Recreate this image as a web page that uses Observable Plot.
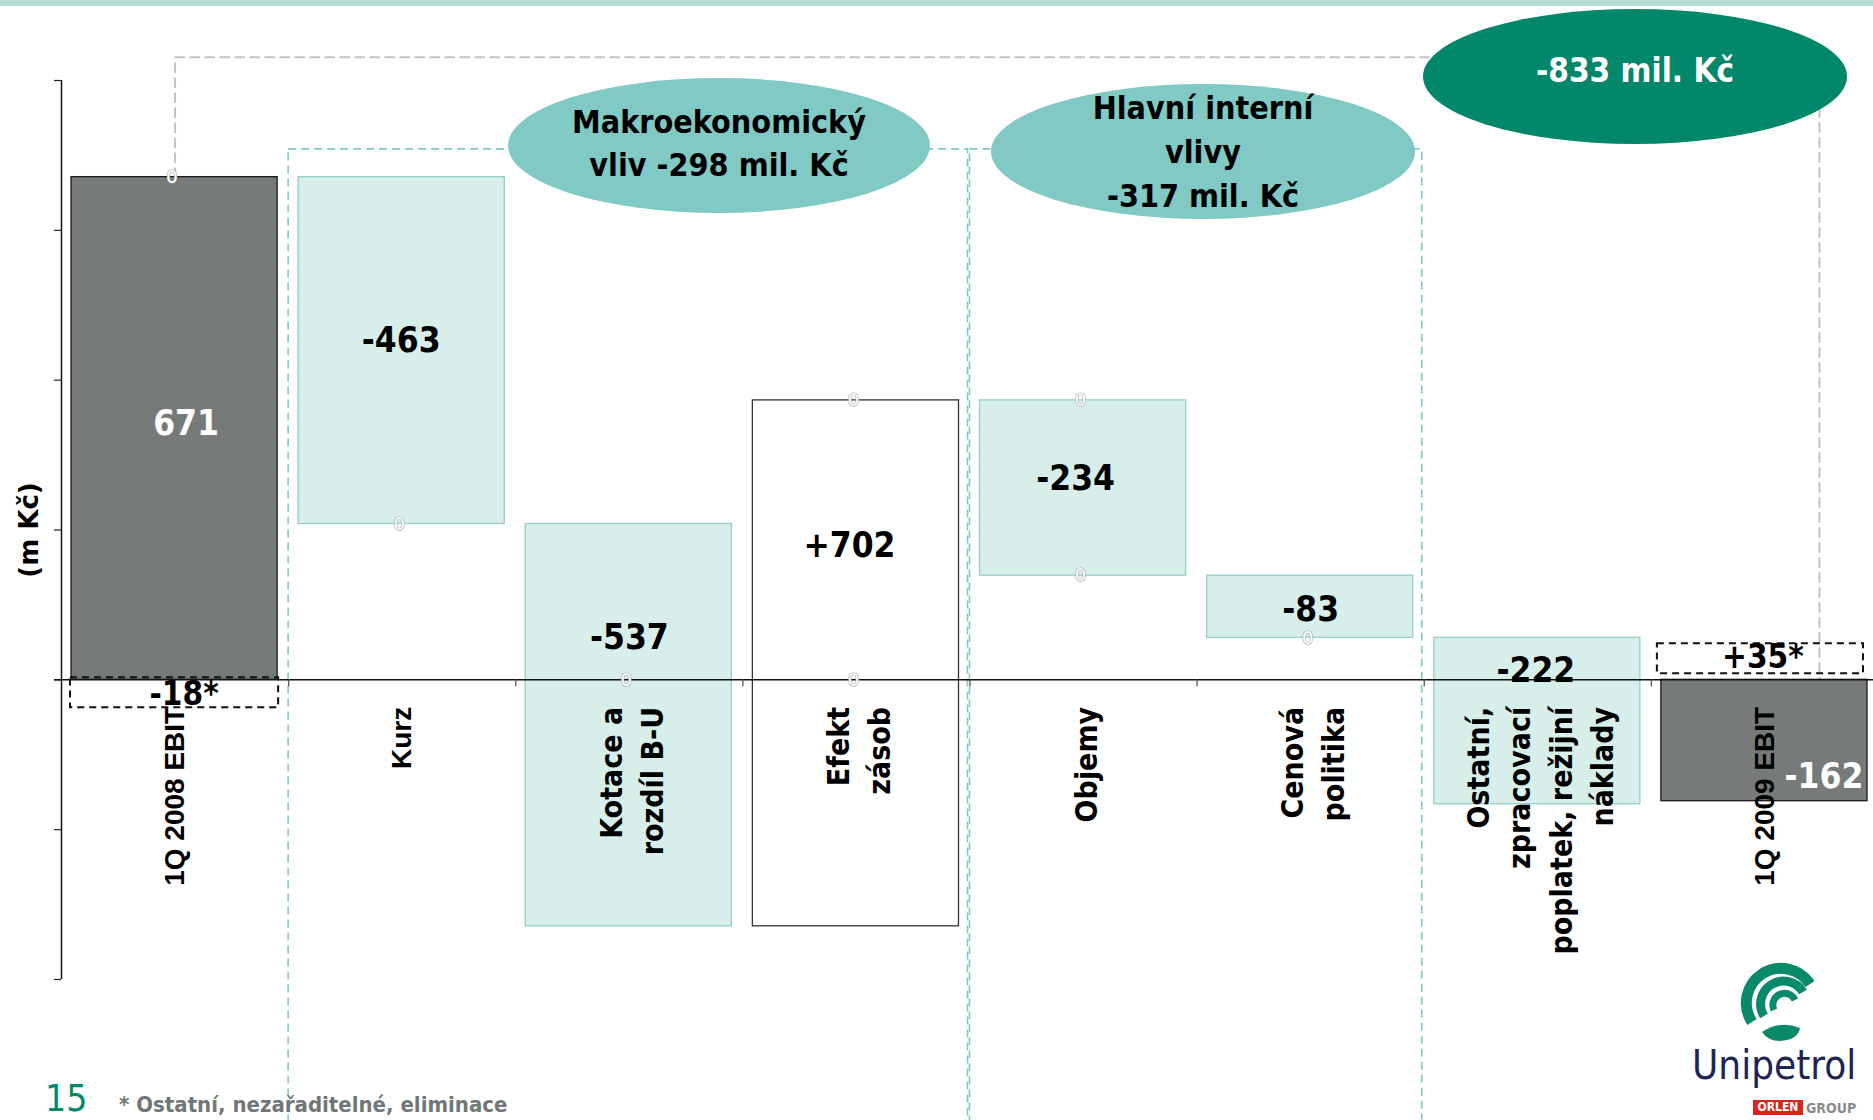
<!DOCTYPE html>
<html>
<head>
<meta charset="utf-8">
<script src="https://cdn.jsdelivr.net/npm/d3@7"></script>
<script src="https://cdn.jsdelivr.net/npm/@observablehq/plot@0.6"></script>
<style>
  body { margin: 0; background: #fff; }
  #wrap { position: relative; width: 1873px; height: 1120px; overflow: hidden; background: #fff;
          font-family: "DejaVu Sans Condensed", "DejaVu Sans", sans-serif; }
  #wrap svg.plot { position: absolute; left: 0; top: 0; }
  .ell { position: absolute; border-radius: 50%; display: flex; flex-direction: column; align-items: center;
         justify-content: center; text-align: center; font-weight: bold;
         font-family: "DejaVu Sans Condensed", "DejaVu Sans", sans-serif; }
  .abs { position: absolute; line-height: 1; white-space: nowrap; }
</style>
</head>
<body>
<div id="wrap"></div>
<script>
// ---------- data ----------
const categories = [
  "1Q 2008 EBIT",
  "Kurz",
  "Kotace a\nrozdíl B-U",
  "Efekt\nzásob",
  "Objemy",
  "Cenová\npolitika",
  "Ostatní,\nzpracovací\npoplatek, režijní\nnáklady",
  "1Q 2009 EBIT"
];
const values = [671, -463, -537, 702, -234, -83, -222, -162];
const kinds = ["total", "change", "change", "change", "change", "change", "change", "total"];
const valueLabels = ["671", "-463", "-537", "+702", "-234", "-83", "-222", "-162"];

const adjustmentCategories = ["1Q 2008 EBIT", "1Q 2009 EBIT"];
const adjustmentValues = [-18, 35];
const adjustmentLabels = ["-18*", "+35*"];

const groupNames = ["Makroekonomický\nvliv -298 mil. Kč", "Hlavní interní\nvlivy\n-317 mil. Kč"];
const groupFirst = ["Kurz", "Objemy"];
const groupLast = ["Efekt\nzásob", "Cenová\npolitika"];
const groupTotals = [-298, -317];
const totalChangeLabel = "-833 mil. Kč";

// small hollow "0" data labels visible in the source chart
const zeroMarkCategories = ["1Q 2008 EBIT", "Kurz", "Kotace a\nrozdíl B-U", "Efekt\nzásob", "Efekt\nzásob",
  "Objemy", "Objemy", "Cenová\npolitika"];
const zeroMarkValues = [671, 208, 0, 373, 0, 373, 139, 56];

const yTicks = [-400, -200, 0, 200, 400, 600, 800];
const yTitle = "(m Kč)";
const pageNumber = "15";
const footnote = "* Ostatní, nezařaditelné, eliminace";

// ---------- derived table ----------
const n = categories.length;
const idx = c => categories.indexOf(c);
let cum = 0;
const bars = values.map((v, i) => {
  let start, end;
  if (kinds[i] === "total") { start = 0; end = v; cum = v; }
  else { start = cum; end = cum + v; cum = end; }
  return { i, x1: i, x2: i + 1, xm: i + 0.5, start, end, mid: (start + end) / 2,
           kind: kinds[i], inc: v > 0, label: valueLabels[i], cat: categories[i] };
});
const adjustments = adjustmentCategories.map((c, k) => ({ i: idx(c), xm: idx(c) + 0.5, x1: idx(c), x2: idx(c) + 1,
  v: adjustmentValues[k], label: adjustmentLabels[k] }));
const groups = groupNames.map((g, k) => ({ name: g, x1: idx(groupFirst[k]), x2: idx(groupLast[k]) + 1, total: groupTotals[k] }));
const zeroMarks = zeroMarkCategories.map((c, k) => ({ xm: idx(c) + 0.5, v: zeroMarkValues[k] }));

// ---------- styles ----------
const COND = "DejaVu Sans Condensed, DejaVu Sans, sans-serif";
const ARIAL = "Liberation Sans, Arial, sans-serif";
const fillOf = d => d.kind === "total" ? "#767b7a" : (d.inc ? "#ffffff" : "#d8eeeb");
const strokeOf = d => d.kind === "total" ? "#1a1a1a" : (d.inc ? "#333333" : "#92cfcb");
const labelDx = [11, -1, 0, -7, -8, 0, -2, 59];
const labelDy = [-5, -10, -87, -118, -9, 3, -50, 36];
const arialCats = new Set(["1Q 2008 EBIT", "Kurz", "1Q 2009 EBIT"]);

// bracket from first total to the last bar (annotation of total change)
const first = bars[0], last = bars[n - 1];
const bracketTop = 831;
const bracket = [
  { x: first.xm, y: first.end },
  { x: first.xm, y: bracketTop },
  { x: last.x1 + 0.74, y: bracketTop },
  { x: last.x1 + 0.74, y: 0 }
];

const valueTextMarks = bars.map(b => Plot.text([b], {
  x: "xm", y: "mid", text: "label", dx: labelDx[b.i], dy: labelDy[b.i],
  fill: b.kind === "total" ? "#ffffff" : "#000000",
  fontSize: 35, fontWeight: "bold", fontFamily: COND
}));

const chart = Plot.plot({
  width: 1873,
  height: 1120,
  marginLeft: 61,
  marginRight: 0,
  marginTop: 80,
  marginBottom: 141,
  x: { domain: [0, n], range: [61, 1878], axis: null },
  y: { domain: [yTicks[0], yTicks[yTicks.length - 1]], range: [979, 80], axis: null },
  color: { type: "identity" },
  style: { overflow: "visible", background: "transparent" },
  marks: [
    // group frames
    Plot.rect(groups, { x1: "x1", x2: "x2", y1: -640, y2: 708, fill: "none", stroke: "#7fcac6",
      strokeWidth: 1.6, strokeDasharray: "8,5", insetRight: 2 }),
    // grey bracket
    Plot.line(bracket, { x: "x", y: "y", stroke: "#c3c3c3", strokeWidth: 2, strokeDasharray: "9,6" }),
    // bars
    Plot.rect(bars, { x1: "x1", x2: "x2", y1: "start", y2: "end", fill: fillOf, stroke: strokeOf,
      strokeWidth: 1.3, insetLeft: 10, insetRight: 11 }),
    // y axis
    Plot.ruleX([0], { y1: yTicks[0], y2: yTicks[yTicks.length - 1], stroke: "#111", strokeWidth: 1.5 }),
    Plot.axisY({ ticks: yTicks, tickSize: 7, tickFormat: () => "", stroke: "#222", strokeWidth: 1.2, label: null }),
    Plot.text([yTitle], { frameAnchor: "left", textAnchor: "middle", dx: -32, rotate: -90, fontSize: 26,
      fontWeight: "bold", fontFamily: "DejaVu Sans, sans-serif", fill: "#000" }),
    // zero line and category boundary ticks
    Plot.ruleY([0], { stroke: "#111", strokeWidth: 1.5, insetLeft: -7 }),
    Plot.ruleX(d3.range(1, n), { y1: 0, y2: 0, insetBottom: -7, stroke: "#555", strokeWidth: 1.3 }),
    // adjustment boxes
    Plot.rect(adjustments.filter(d => d.v < 0), { x1: "x1", x2: "x2", y1: 0, y2: 0, insetTop: -2, insetBottom: -28,
      insetLeft: 9, insetRight: 10, fill: "none", stroke: "#111", strokeWidth: 2, strokeDasharray: "7,5" }),
    Plot.rect(adjustments.filter(d => d.v > 0), { x1: "x1", x2: "x2", y1: 0, y2: 0, insetTop: -36, insetBottom: 6,
      insetLeft: 6, insetRight: 15, fill: "none", stroke: "#111", strokeWidth: 2, strokeDasharray: "7,5" }),
    // hollow zero marks
    Plot.text(zeroMarks, { x: "xm", y: "v", text: () => "0", dx: -3, fontSize: 18, fill: "#ffffff",
      stroke: "#a0a0a0", strokeWidth: 1.2, fontFamily: "DejaVu Sans, sans-serif" }),
    // adjustment labels
    Plot.text(adjustments.filter(d => d.v < 0), { x: "xm", y: 0, text: "label", dx: 9, dy: 15, fontSize: 33,
      fontWeight: "bold", fontFamily: COND, fill: "#000" }),
    Plot.text(adjustments.filter(d => d.v > 0), { x: "xm", y: 0, text: "label", dx: -2, dy: -22, fontSize: 33,
      fontWeight: "bold", fontFamily: COND, fill: "#000" }),
    // category labels
    Plot.text(bars.filter(d => arialCats.has(d.cat)), { x: "xm", y: 0, text: "cat", rotate: -90, textAnchor: "end",
      lineAnchor: "middle", dy: 27, fontSize: 28, fontWeight: "bold", fontFamily: ARIAL, fill: "#000" }),
    Plot.text(bars.filter(d => !arialCats.has(d.cat)), { x: "xm", y: 0, text: "cat", rotate: -90, textAnchor: "end",
      lineAnchor: "middle", dy: 27, lineHeight: 1.37, fontSize: 30, fontWeight: "bold", fontFamily: COND, fill: "#000" }),
    // value labels
    ...valueTextMarks
  ]
});

const wrap = document.getElementById("wrap");

// top stripe
const stripe = document.createElement("div");
stripe.style.cssText = "position:absolute;left:0;top:0;width:1873px;height:6px;background:#b5dcd5;";
wrap.appendChild(stripe);

wrap.appendChild(chart);

// ellipses (annotations)
function ellipse(text, left, top, w, h, bg, color, fs, lh, pb) {
  const e = document.createElement("div");
  e.className = "ell";
  e.style.cssText += `left:${left}px;top:${top}px;width:${w}px;height:${h}px;background:${bg};color:${color};` +
    `font-size:${fs}px;line-height:${lh}px;padding-bottom:${pb || 0}px;box-sizing:border-box;`;
  e.innerHTML = text.split("\n").map(s => `<div>${s}</div>`).join("");
  wrap.appendChild(e);
}
ellipse(groups[0].name, 508, 78, 422, 135, "#80c9c4", "#000", 32, 43, 4);
ellipse(groups[1].name, 991, 84, 424, 135, "#80c9c4", "#000", 32, 44, 0);
ellipse(totalChangeLabel, 1423, 9, 424, 135, "#02876b", "#fff", 33, 40, 12);

// footer
function absText(t, left, top, css) {
  const d = document.createElement("div");
  d.className = "abs";
  d.textContent = t;
  d.style.cssText += `left:${left}px;top:${top}px;` + css;
  wrap.appendChild(d);
}
absText(pageNumber, 45, 1080, "font-size:37px;color:#00896b;font-family:'DejaVu Sans Condensed','DejaVu Sans',sans-serif;");
absText(footnote, 119, 1094, "font-size:22px;font-weight:bold;color:#6f7778;font-family:'DejaVu Sans Condensed','DejaVu Sans',sans-serif;");

// logo
const logo = document.createElement("div");
logo.style.cssText = "position:absolute;left:1740px;top:962px;width:74px;height:84px;";
logo.innerHTML = `<svg width="74" height="84" viewBox="0 0 74 84">
  <g fill="none" stroke="#0b8a6b" stroke-linecap="butt">
    <path d="M12 60 A32 32 0 0 1 70 22" stroke-width="11"/>
    <path d="M24 54 A20 20 0 0 1 63 30" stroke-width="9"/>
    <path d="M34 48 A10 10 0 0 1 55 38" stroke-width="7"/>
  </g>
  <path d="M22 70 Q40 58 60 66 Q58 78 40 79 Q28 79 22 70 Z" fill="#0b8a6b"/>
</svg>`;
wrap.appendChild(logo);
absText("Unipetrol", 1692, 1045, "font-size:40px;color:#1d2556;font-family:'DejaVu Sans Condensed','DejaVu Sans',sans-serif;");
const orlen = document.createElement("div");
orlen.style.cssText = "position:absolute;left:1753px;top:1100px;width:50px;height:15px;background:#d8261c;color:#fff;" +
  "font:bold 12px 'DejaVu Sans Condensed','DejaVu Sans',sans-serif;line-height:15px;text-align:center;";
orlen.textContent = "ORLEN";
wrap.appendChild(orlen);
absText("GROUP", 1806, 1101, "font-size:14px;font-weight:bold;color:#8a8a8a;font-family:'DejaVu Sans Condensed','DejaVu Sans',sans-serif;");
</script>
</body>
</html>
